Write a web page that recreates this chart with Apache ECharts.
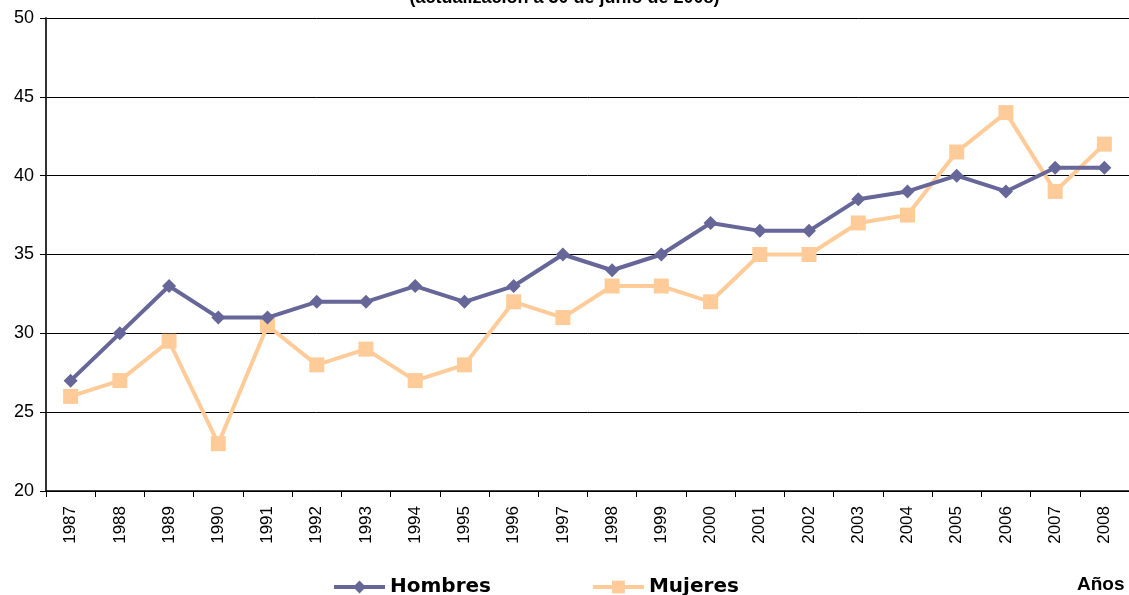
<!DOCTYPE html>
<html><head><meta charset="utf-8">
<script src="https://cdn.jsdelivr.net/npm/echarts@6/dist/echarts.min.js"></script>
<style>html,body{margin:0;padding:0;background:#fff}#c{width:1129px;height:595px}</style>
</head><body><div id="c"></div>
<script>
const years = ['1987','1988','1989','1990','1991','1992','1993','1994','1995','1996','1997','1998','1999','2000','2001','2002','2003','2004','2005','2006','2007','2008'];
const hombres = [27,30,33,31,31,32,32,33,32,33,35,34,35,37,36.5,36.5,38.5,39,40,39,40.5,40.5];
const mujeres = [26,27,29.5,23,30.5,28,29,27,28,32,31,33,33,32,35,35,37,37.5,41.5,44,39,42];
const yTicks = {min:20, max:50, interval:5};

const chart = echarts.init(document.getElementById('c'));
chart.setOption({
  animation:false,
  backgroundColor:'#fff',
  title:{text:'(actualización a 30 de junio de 2008)', left:'center', top:-16,
    textStyle:{fontFamily:'Liberation Sans', fontWeight:'bold', fontSize:18, color:'#000'}},
  grid:{left:46, right:-3, top:18, bottom:104},
  legend:{left:327, top:572, itemWidth:51, itemHeight:16, itemGap:100,
    lineStyle:{width:4},
    textStyle:{fontFamily:'DejaVu Sans', fontWeight:'bold', fontSize:20, color:'#000'},
    data:[{name:'Hombres'},{name:'Mujeres'}]},
  graphic:[{type:'text', left:1077, top:575, style:{text:'Años', font:'bold 19px "Liberation Sans"', fill:'#000'}}],
  xAxis:{type:'category', data:years, boundaryGap:true,
    axisLine:{lineStyle:{color:'#000', width:1.5}},
    axisTick:{show:true, length:6, lineStyle:{color:'#000'}},
    axisLabel:{rotate:90, color:'#000', fontFamily:'Liberation Sans', fontSize:17, margin:15, interval:0}},
  yAxis:{type:'value', min:yTicks.min, max:yTicks.max, interval:yTicks.interval,
    axisLine:{show:true, lineStyle:{color:'#333', width:2}},
    axisTick:{show:true, length:6, lineStyle:{color:'#000'}},
    splitLine:{lineStyle:{color:'#000', width:1}},
    axisLabel:{color:'#000', fontFamily:'Liberation Sans', fontSize:18, margin:12}},
  series:[
    {name:'Hombres', type:'line', data:hombres, color:'#666699', symbol:'diamond', symbolSize:14,
      lineStyle:{width:4, color:'#666699'}, itemStyle:{color:'#666699'}, z:3},
    {name:'Mujeres', type:'line', data:mujeres, color:'#FFCC99', symbol:'rect', symbolSize:15,
      lineStyle:{width:4, color:'#FFCC99'}, itemStyle:{color:'#FFCC99'}, z:2}
  ]
});
</script></body></html>
